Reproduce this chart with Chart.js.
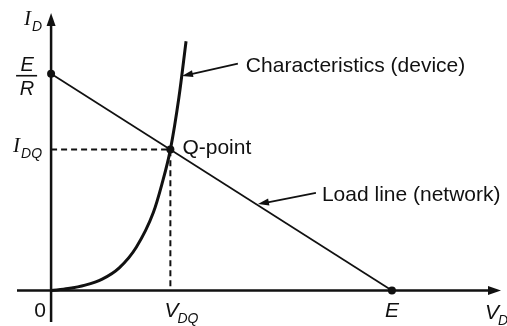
<!DOCTYPE html>
<html>
<head>
<meta charset="utf-8">
<script src="https://cdn.jsdelivr.net/npm/chart.js"></script>
<style>
  html, body { margin: 0; padding: 0; background: #fff; }
  #wrap { width: 507px; height: 326px; }
</style>
</head>
<body>
<div id="wrap"><canvas id="loadLine" width="507" height="326"></canvas></div>
<script>
// supply and load: E volts across R kilohms
const E = 10
const R = 1

// diode characteristic (V, mA)
const curveV = [0, 0.5, 1.0, 1.5, 2.0, 2.5, 3.0, 3.25, 3.5, 3.75, 3.96]
const curveI = [0, 0.09, 0.25, 0.53, 1.05, 2.0, 3.6, 4.9, 6.5, 8.9, 11.5]

// load line end points
const loadV = [0, E]
const loadI = [E / R, 0]

// operating point
const qV = 3.5
const qI = 6.5

// tick labels along the axes: [main, subscript]
const xTickValues = [0, qV, E]
const xTickLabels = [["0", ""], ["V", "DQ"], ["E", ""]]
const yTickValues = [qI, E / R]
const yTickLabels = [["I", "DQ"], ["E", "R"]]

const SANS = "'Liberation Sans', Arial, sans-serif"
const SERIF = "'Liberation Serif', 'Times New Roman', serif"

const toPts = (xs, ys) => xs.map((x, i) => ({ x: x, y: ys[i] }))

function arrowHead(ctx, x1, y1, x2, y2, len, half) {
  const a = Math.atan2(y2 - y1, x2 - x1)
  ctx.beginPath()
  ctx.moveTo(x2, y2)
  ctx.lineTo(x2 - len * Math.cos(a) + half * Math.sin(a), y2 - len * Math.sin(a) - half * Math.cos(a))
  ctx.lineTo(x2 - len * Math.cos(a) - half * Math.sin(a), y2 - len * Math.sin(a) + half * Math.cos(a))
  ctx.closePath()
  ctx.fill()
}

// italic symbol with a smaller subscript; x is the left edge, y the baseline
function symbol(ctx, main, sub, x, y, serifMain) {
  ctx.textAlign = "left"
  ctx.textBaseline = "alphabetic"
  ctx.font = "italic 21px " + (serifMain ? SERIF : SANS)
  ctx.fillText(main, x, y)
  const w = ctx.measureText(main).width
  if (sub) {
    ctx.font = "italic 14px " + SANS
    ctx.fillText(sub, x + w + (serifMain ? 1 : -1), y + 6)
  }
}

const axesAndNotes = {
  id: "axesAndNotes",
  beforeDatasetsDraw(chart) {
    const ctx = chart.ctx
    const xs = chart.scales.x
    const ys = chart.scales.y
    const x0 = xs.getPixelForValue(0)
    const y0 = ys.getPixelForValue(0)
    ctx.save()
    ctx.strokeStyle = "#111"
    ctx.fillStyle = "#111"
    ctx.lineWidth = 2.5
    ctx.beginPath()
    ctx.moveTo(xs.getPixelForValue(xs.min), y0)
    ctx.lineTo(xs.getPixelForValue(xs.max) - 6, y0)
    ctx.moveTo(x0, ys.getPixelForValue(ys.min))
    ctx.lineTo(x0, ys.getPixelForValue(ys.max) + 6)
    ctx.stroke()
    arrowHead(ctx, x0, y0, xs.getPixelForValue(xs.max), y0, 13, 4.5)
    arrowHead(ctx, x0, y0, x0, ys.getPixelForValue(ys.max), 13, 4.5)
    ctx.restore()
  },
  afterDatasetsDraw(chart) {
    const ctx = chart.ctx
    const xs = chart.scales.x
    const ys = chart.scales.y
    const px = v => xs.getPixelForValue(v)
    const py = v => ys.getPixelForValue(v)
    const x0 = px(0)
    const y0 = py(0)
    ctx.save()
    ctx.fillStyle = "#111"
    ctx.strokeStyle = "#111"

    // axis titles
    symbol(ctx, "I", "D", x0 - 27, py(ys.max) + 12, true)
    symbol(ctx, "V", "D", px(xs.max) - 16, y0 + 28, false)

    // x tick labels
    xTickValues.forEach((v, i) => {
      const [m, s] = xTickLabels[i]
      if (m === "0") {
        ctx.font = "21px " + SANS
        ctx.textAlign = "center"
        ctx.fillText(m, px(v) - 11, y0 + 26)
      } else if (!s) {
        ctx.font = "italic 21px " + SANS
        ctx.textAlign = "center"
        ctx.fillText(m, px(v), y0 + 26)
      } else {
        symbol(ctx, m, s, px(v) - 6, y0 + 26, false)
      }
    })

    // y tick labels
    yTickValues.forEach((v, i) => {
      const [m, s] = yTickLabels[i]
      if (m === "E") {
        const cx = x0 - 24
        ctx.font = "italic 20px " + SANS
        ctx.textAlign = "center"
        ctx.fillText(m, cx, py(v) - 3)
        ctx.fillText(s, cx, py(v) + 21)
        ctx.lineWidth = 1.6
        ctx.beginPath()
        ctx.moveTo(cx - 11, py(v) + 2)
        ctx.lineTo(cx + 10, py(v) + 2)
        ctx.stroke()
      } else {
        symbol(ctx, m, s, x0 - 38, py(v) + 2, true)
      }
    })

    // callouts
    ctx.lineWidth = 1.8
    const callouts = [
      { text: "Characteristics (device)", from: [5.48, 10.46], to: [3.84, 9.9], dx: 8 },
      { text: "Load line (network)", from: [7.77, 4.5], to: [6.07, 3.99], dx: 6 }
    ]
    callouts.forEach(c => {
      const fx = px(c.from[0]), fy = py(c.from[1])
      const tx = px(c.to[0]), ty = py(c.to[1])
      ctx.beginPath()
      ctx.moveTo(fx, fy)
      ctx.lineTo(tx + 6, ty - 1)
      ctx.stroke()
      arrowHead(ctx, fx, fy, tx, ty, 11, 3.5)
      ctx.font = "21px " + SANS
      ctx.textAlign = "left"
      ctx.textBaseline = "middle"
      ctx.fillText(c.text, fx + c.dx, fy + 2)
    })
    ctx.font = "21px " + SANS
    ctx.textAlign = "left"
    ctx.textBaseline = "middle"
    ctx.fillText("Q-point", px(qV) + 12, py(qI) - 1)
    ctx.restore()
  }
}

new Chart(document.getElementById("loadLine"), {
  type: "scatter",
  data: {
    datasets: [
      {
        label: "Q-point guides",
        data: [{ x: 0, y: qI }, { x: qV, y: qI }, { x: qV, y: 0 }],
        showLine: true,
        borderColor: "#111",
        borderWidth: 2,
        borderDash: [6, 4],
        pointRadius: 0
      },
      {
        label: "Load line (network)",
        data: toPts(loadV, loadI),
        showLine: true,
        borderColor: "#111",
        borderWidth: 1.7,
        pointRadius: 4,
        pointBackgroundColor: "#111",
        pointBorderWidth: 0
      },
      {
        label: "Characteristics (device)",
        data: toPts(curveV, curveI),
        showLine: true,
        cubicInterpolationMode: "monotone",
        borderColor: "#111",
        borderWidth: 3,
        pointRadius: 0
      },
      {
        label: "Q-point",
        data: [{ x: qV, y: qI }],
        pointRadius: 4,
        pointBackgroundColor: "#111",
        pointBorderWidth: 0
      }
    ]
  },
  options: {
    responsive: false,
    animation: false,
    layout: {
      padding: { left: 17, right: 6, top: 13, bottom: 2 }
    },
    scales: {
      x: { type: "linear", min: -1, max: 13.2, display: false },
      y: { type: "linear", min: -1.45, max: 12.8, display: false }
    },
    plugins: {
      legend: { display: false },
      tooltip: { enabled: false }
    }
  },
  plugins: [axesAndNotes]
})
</script>
</body>
</html>
